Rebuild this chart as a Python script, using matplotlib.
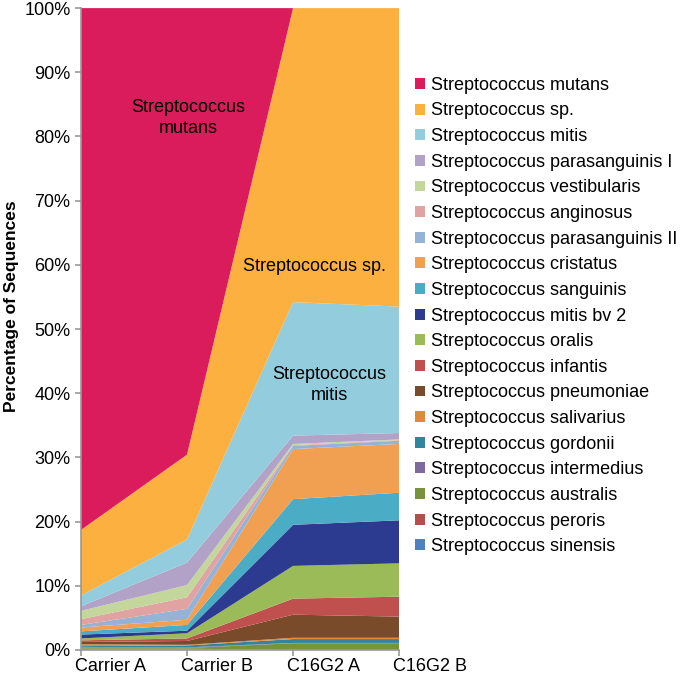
import matplotlib.pyplot as plt
import numpy as np
from matplotlib.patches import Patch
from matplotlib.transforms import ScaledTranslation

plt.rcParams['font.family'] = ['Liberation Sans', 'DejaVu Sans']

samples = ["Carrier A", "Carrier B", "C16G2 A", "C16G2 B"]

# legend order (top of the stack first)
species = [
    "Streptococcus mutans", "Streptococcus sp.", "Streptococcus mitis",
    "Streptococcus parasanguinis I", "Streptococcus vestibularis",
    "Streptococcus anginosus", "Streptococcus parasanguinis II",
    "Streptococcus cristatus", "Streptococcus sanguinis",
    "Streptococcus mitis bv 2", "Streptococcus oralis",
    "Streptococcus infantis", "Streptococcus pneumoniae",
    "Streptococcus salivarius", "Streptococcus gordonii",
    "Streptococcus intermedius", "Streptococcus australis",
    "Streptococcus peroris", "Streptococcus sinensis",
]

# percent of sequences per sample, same order as species
mutans        = [81.3, 69.5, 0.0, 0.0]
sp            = [10.2, 13.2, 45.8, 46.5]
mitis         = [1.7, 3.6, 20.8, 19.7]
parasang_1    = [0.7, 3.5, 1.3, 1.0]
vestibularis  = [1.3, 1.9, 0.2, 0.1]
anginosus     = [0.9, 1.8, 0.1, 0.1]
parasang_2    = [0.4, 1.7, 0.5, 0.5]
cristatus     = [0.6, 0.8, 7.8, 7.6]
sanguinis     = [0.5, 0.9, 4.0, 4.3]
mitis_bv2     = [0.6, 0.4, 6.4, 6.7]
oralis        = [0.3, 0.8, 5.1, 5.2]
infantis      = [0.25, 0.4, 2.5, 3.1]
pneumoniae    = [0.35, 0.6, 3.6, 3.3]
salivarius    = [0.3, 0.1, 0.2, 0.2]
gordonii      = [0.15, 0.3, 0.6, 0.6]
intermedius   = [0.1, 0.1, 0.05, 0.05]
australis     = [0.15, 0.1, 1.05, 1.05]
peroris       = [0.1, 0.1, 0.0, 0.0]
sinensis      = [0.1, 0.1, 0.0, 0.0]

series = [mutans, sp, mitis, parasang_1, vestibularis, anginosus, parasang_2,
          cristatus, sanguinis, mitis_bv2, oralis, infantis, pneumoniae,
          salivarius, gordonii, intermedius, australis, peroris, sinensis]

colors = ["#DA1C5C", "#FBB040", "#93CDDD", "#B3A2C7", "#C3D69B", "#E0A3A2",
          "#95B3D7", "#F0A050", "#4BACC6", "#2C3B8F", "#9BBB59", "#C0504D",
          "#7A4B2A", "#E0893A", "#31859C", "#7F6A9F", "#77933C", "#B14F4D",
          "#4F81BD"]

data = np.array(series, dtype=float)
data = data / data.sum(axis=0) * 100
x = np.arange(len(samples))

fig = plt.figure(figsize=(6.8, 6.76), dpi=100)
ax = fig.add_axes([0.119, 0.0385, 0.468, 0.9495])

# stack from the bottom (last species) up
ax.stackplot(x, data[::-1], colors=colors[::-1], linewidth=0)

ax.set_xlim(0, 3)
ax.set_ylim(0, 100)
ax.set_xticks(x)
ax.set_xticklabels(samples, fontsize=13)
ax.set_yticks(np.arange(0, 101, 10))
ax.set_yticklabels([f"{v}%" for v in range(0, 101, 10)], fontsize=13)
ax.set_ylabel("Percentage of Sequences", fontsize=12.5, fontweight="bold")
ax.yaxis.set_label_coords(-0.195, 0.535)
for s in ["top", "right"]:
    ax.spines[s].set_visible(False)
for s in ["left", "bottom"]:
    ax.spines[s].set_color("#999999")
    ax.spines[s].set_linewidth(1.2)
ax.tick_params(colors="#999999", labelcolor="black", length=4, width=1.2)
ax.tick_params(axis="x", pad=1.5)

# category labels start just left of their tick, like the original
shift = ScaledTranslation(-0.06, 0, fig.dpi_scale_trans)
for lbl in ax.get_xticklabels():
    lbl.set_horizontalalignment("left")
    lbl.set_transform(lbl.get_transform() + shift)

ax.text(1.01, 82.9, "Streptococcus\nmutans", ha="center", va="center",
        fontsize=13, linespacing=1.35)
ax.text(2.2, 59.8, "Streptococcus sp.", ha="center", va="center", fontsize=13)
ax.text(2.34, 41.3, "Streptococcus\nmitis", ha="center", va="center",
        fontsize=13, linespacing=1.35)

handles = [Patch(facecolor=c, edgecolor="none") for c in colors]
fig.legend(handles, species, loc="upper left", bbox_to_anchor=(0.6, 0.897),
           frameon=False, fontsize=13, handlelength=0.55, handleheight=0.55,
           handletextpad=0.3, labelspacing=0.478, borderaxespad=0)

fig.savefig("out.png", dpi=100)
